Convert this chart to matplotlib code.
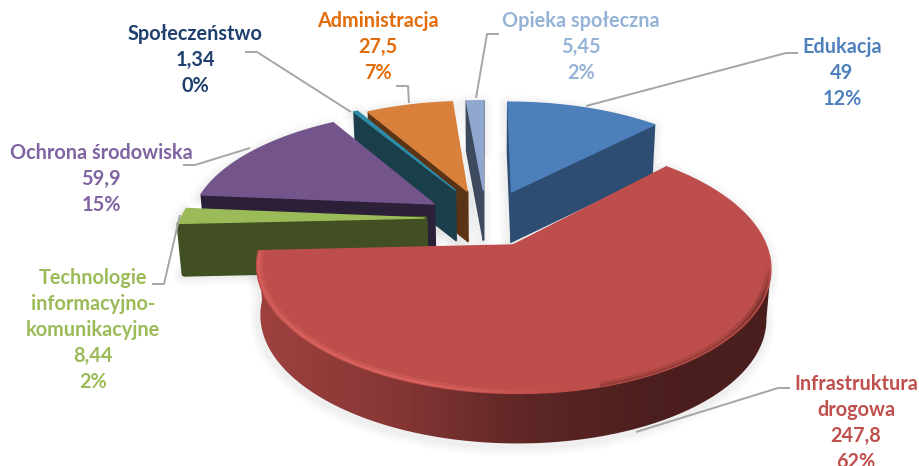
import numpy as np
import matplotlib
matplotlib.use('Agg')
import matplotlib.pyplot as plt
from matplotlib.collections import PolyCollection, LineCollection
from matplotlib.colors import to_rgb

# dane
categories = ['Edukacja', 'Infrastruktura\ndrogowa', 'Technologie\ninformacyjno-\nkomunikacyjne',
              'Ochrona środowiska', 'Społeczeństwo', 'Administracja', 'Opieka społeczna']
values = [49, 247.8, 8.44, 59.9, 1.34, 27.5, 5.45]
value_labels = ['49', '247,8', '8,44', '59,9', '1,34', '27,5', '5,45']
percent_labels = ['12%', '62%', '2%', '15%', '0%', '7%', '2%']

# wygląd
top_colors = ['#4D7FBB', '#BE4E4B', '#9BBB59', '#73558C', '#2F8CA8', '#D9803C', '#90A8D0']
wall_colors = ['#2E4D72', '#4C1F1D', '#414F22', '#2C2038', '#1A3E4A', '#5B3415', '#3D4A5E']
text_colors = ['#4F81BD', '#C0504D', '#9BBB59', '#8064A2', '#1F3F6E', '#E36C0A', '#95B3D7']
# wysunięcie kawałków (u, v) na tarczy
explode = [(0.092, 0.159), (0.091, -0.31), (-0.270, -0.081), (-0.235, 0.046),
           (-0.150, 0.178), (-0.098, 0.168), (-0.029, 0.178)]
# kolejność rysowania: od tyłu do przodu
draw_order = [6, 0, 5, 4, 3, 2, 1]
label_pos = [(842, 47), (856, 384), (93, 278), (101, 153), (195, 34), (378, 21), (581, 21)]
leaders = [[(586, 106), (786, 53), (798, 53)],
           [(636, 432), (778, 388), (790, 388)],
           [(180, 215), (164, 284), (152, 284)],
           [(250, 148), (195, 165), (183, 165)],
           [(351, 112), (257, 52), (245, 52)],
           [(409, 103), (408, 86), (396, 86)],
           [(476, 98), (487, 34), (499, 34)]]

cx, cy, rx, ay, persp = 490, 209, 240, 110, 0.167
depth = 50
taper = 0.016
line_h = 26


def project(u, v):
    w = 1 + persp * v
    return cx + rx * u / w, cy - ay * v / w


def wedge_points(a0, a1, off, r=1.0, n=300):
    t = np.radians(np.linspace(a0, a1, n))
    x, y = project(off[0] + r * np.sin(t), off[1] + r * np.cos(t))
    return np.column_stack([x, y])


def lower(p):
    # dolna krawędź lekko zbiega się do środka
    p = np.atleast_2d(p)
    return np.column_stack([p[:, 0] - (p[:, 0] - cx) * taper, p[:, 1] + depth])


fig = plt.figure(figsize=(9.19, 4.66), dpi=100)
ax = fig.add_axes([0, 0, 1, 1])

angles = np.array(values) / sum(values) * 360
starts = np.concatenate([[0], np.cumsum(angles)[:-1]]) - 0.2

for i in draw_order:
    a0, a1 = starts[i], starts[i] + angles[i]
    off = explode[i]
    rim = wedge_points(a0, a1, off)
    apex = np.array(project(*off))
    outline = np.vstack([apex, rim])
    low = lower(outline)
    z = 2 + draw_order.index(i)

    # cień
    sil = np.vstack([outline, low[::-1]])
    for lw in [14, 10, 7, 4]:
        ax.fill(sil[:, 0] - 1, sil[:, 1] + 3, fc='none', ec='#808080', lw=lw, alpha=0.03,
                joinstyle='round', zorder=1)

    # ściany boczne: widoczne tylko te, które idą w lewo
    if i == 1:
        # ściana zewnętrzna największego kawałka jako gradient przycięty do obrysu
        k0 = np.argmax(rim[:, 0])
        front = rim[k0:]
        front_low = lower(front)
        poly = plt.Polygon(np.vstack([front, front_low[::-1]]), closed=True, fc='none', ec='none',
                           transform=ax.transData)
        ax.add_patch(poly)
        xs = np.linspace(250, 780, 260)
        shade = np.interp(xs, [250, 400, 530, 650, 780], [0.84, 0.70, 0.49, 0.40, 0.38])
        img = np.outer(shade, to_rgb(top_colors[i])).reshape(1, -1, 3)
        im = ax.imshow(img, extent=(250, 780, 460, 240), aspect='auto', zorder=z, interpolation='bilinear')
        im.set_clip_path(poly)
    else:
        closed = np.vstack([outline, apex])
        closed_low = lower(closed)
        quads = [[closed[k], closed[k + 1], closed_low[k + 1], closed_low[k]]
                 for k in range(len(closed) - 1) if closed[k + 1][0] < closed[k][0]]
        if quads:
            ax.add_collection(PolyCollection(quads, facecolors=wall_colors[i], edgecolors=wall_colors[i],
                                             linewidths=4 if i == 2 else 1.2, joinstyle='round', zorder=z))

    # góra
    ax.fill(outline[:, 0], outline[:, 1], fc=top_colors[i], ec=top_colors[i], lw=1,
            joinstyle='round', zorder=z + 0.1)

    # podświetlenie krawędzi największego kawałka: szeroka miękka linia i węższa na wierzchu
    if i == 1:
        for r, lw, gain in [(0.985, 3.2, 0.35), (0.993, 1.6, 0.65)]:
            inner = wedge_points(a0, a1, off, r=r)
            segs = np.stack([inner[:-1], inner[1:]], axis=1)
            cs = []
            for s in segs:
                xm, ym = s[:, 0].mean(), s[:, 1].mean()
                if xm < 600:
                    cs.append((0.90, 0.42, 0.40, gain * float(np.interp(xm, [255, 300, 420, 530, 600], [0.8, 1, 1, 0.15, 0.0]))))
                else:
                    cs.append((0.30, 0.12, 0.11, gain * float(np.interp(ym, [265, 300, 340], [0.0, 0.9, 0.4]))))
            ax.add_collection(LineCollection(segs, colors=cs, linewidths=lw, zorder=z + 0.2))

# linie odniesienia
for pts in leaders:
    xs, ys = zip(*pts)
    ax.plot(xs, ys, color='#A6A6A6', lw=1.4, zorder=30, solid_capstyle='butt')

# etykiety
for name, val, pct, col, (lx, ly) in zip(categories, value_labels, percent_labels, text_colors, label_pos):
    lines = name.split('\n') + [val, pct]
    for k, s in enumerate(lines):
        ax.text(lx, ly + k * line_h, s, color=col, ha='center', va='center', fontsize=14.3,
                fontfamily='Lato', fontweight='bold', zorder=40)

ax.set_xlim(0, 919)
ax.set_ylim(466, 0)
ax.axis('off')
fig.savefig('out.png', dpi=100)
